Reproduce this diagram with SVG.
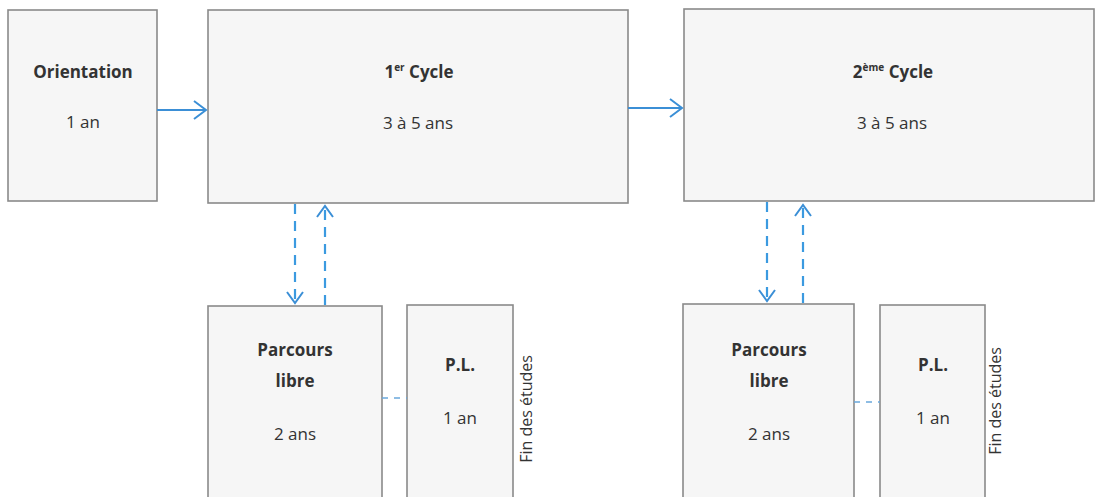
<svg xmlns="http://www.w3.org/2000/svg" width="1096" height="497" viewBox="0 0 1096 497">
<defs>
<style>
.box{fill:#f6f6f6;stroke:#8a8a8a;stroke-width:1.6}
.t{font-family:"Open Sans","Liberation Sans",sans-serif;font-size:17px;fill:#333;text-anchor:middle}
.b{font-weight:bold}
.sup{font-size:10px}
.fin{font-size:16px}
.solid{stroke:#3b8fd6;stroke-width:2.2;fill:none}
.dash{stroke:#3b9ae0;stroke-width:2.2;fill:none;stroke-dasharray:10 7}
.dash2{stroke:#6aa8dc;stroke-width:1.6;fill:none;stroke-dasharray:6 6}
.head{stroke:#3b8fd6;stroke-width:2;fill:none}
</style>
</defs>
<rect width="1096" height="497" fill="#ffffff"/>
<g id="orientation">
<rect class="box" x="8" y="10" width="149" height="191"/>
<text class="t b" x="83" y="78">Orientation</text>
<text class="t" x="83" y="128">1 an</text>
</g>
<g id="cycle1">
<rect class="box" x="208" y="10" width="420" height="193"/>
<text class="t b" x="419" y="78">1<tspan class="sup" dy="-7">er</tspan><tspan dy="7"> Cycle</tspan></text>
<text class="t" x="418" y="129">3 à 5 ans</text>
</g>
<g id="cycle2">
<rect class="box" x="684" y="9" width="410" height="192"/>
<text class="t b" x="893" y="78">2<tspan class="sup" dy="-7">ème</tspan><tspan dy="7"> Cycle</tspan></text>
<text class="t" x="892" y="129">3 à 5 ans</text>
</g>
<g id="parcours1">
<rect class="box" x="208" y="306" width="174" height="200"/>
<text class="t b" x="295" y="356">Parcours</text>
<text class="t b" x="295" y="387">libre</text>
<text class="t" x="295" y="440">2 ans</text>
</g>
<g id="pl1">
<rect class="box" x="407" y="305" width="106" height="200"/>
<text class="t b" x="460" y="371">P.L.</text>
<text class="t" x="460" y="424">1 an</text>
</g>
<g id="fin1">
<text class="t fin" transform="translate(532,409) rotate(-90)">Fin des études</text>
</g>
<g id="parcours2">
<rect class="box" x="683" y="304" width="171" height="200"/>
<text class="t b" x="769" y="356">Parcours</text>
<text class="t b" x="769" y="387">libre</text>
<text class="t" x="769" y="440">2 ans</text>
</g>
<g id="pl2">
<rect class="box" x="880" y="305" width="105" height="200"/>
<text class="t b" x="933" y="371">P.L.</text>
<text class="t" x="933" y="424">1 an</text>
</g>
<g id="fin2">
<text class="t fin" transform="translate(1001,401) rotate(-90)">Fin des études</text>
</g>
<g id="connectors">
<line class="solid" x1="157" y1="110" x2="206" y2="110"/>
<polyline class="head" points="194,101 206,110 194,119"/>
<line class="solid" x1="628" y1="108" x2="682" y2="108"/>
<polyline class="head" points="670,99 682,108 670,117"/>
<line class="dash" x1="295" y1="204" x2="295" y2="303"/>
<polyline class="head" points="287,292 295,303 303,292"/>
<line class="dash" x1="325" y1="305" x2="325" y2="206"/>
<polyline class="head" points="317,217 325,206 333,217"/>
<line class="dash" x1="767" y1="202" x2="767" y2="301"/>
<polyline class="head" points="759,290 767,301 775,290"/>
<line class="dash" x1="803" y1="303" x2="803" y2="205"/>
<polyline class="head" points="795,216 803,205 811,216"/>
<line class="dash2" x1="382" y1="398" x2="407" y2="398"/>
<line class="dash2" x1="854" y1="402" x2="880" y2="402"/>
</g>
</svg>
